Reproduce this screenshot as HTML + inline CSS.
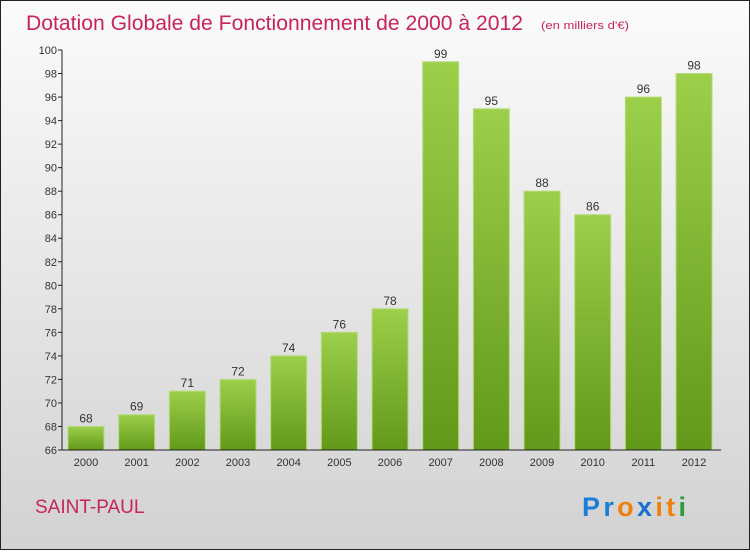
<!DOCTYPE html>
<html><head><meta charset="utf-8"><style>
html,body{margin:0;padding:0}
body{width:750px;height:550px;overflow:hidden;font-family:"Liberation Sans",sans-serif}
</style></head><body>
<svg width="750" height="550" xmlns="http://www.w3.org/2000/svg">
<defs>
<linearGradient id="bg" x1="0" y1="0" x2="0" y2="1"><stop offset="0" stop-color="#fbfbfb"/><stop offset="1" stop-color="#d2d2d2"/></linearGradient>
<linearGradient id="bar" x1="0" y1="0" x2="0" y2="1"><stop offset="0" stop-color="#9ccf4a"/><stop offset="1" stop-color="#62991a"/></linearGradient>
</defs>
<rect x="0.5" y="0.5" width="749" height="549" fill="url(#bg)" stroke="#222"/>
<text x="26" y="30" font-size="21" fill="#c8245a" textLength="497" lengthAdjust="spacingAndGlyphs">Dotation Globale de Fonctionnement de 2000 à 2012</text>
<text x="541" y="29" font-size="11" fill="#c8245a" textLength="88" lengthAdjust="spacingAndGlyphs">(en milliers d'€)</text>
<g id="plot"></g>
<text x="35" y="513" font-size="19" fill="#c8245a">SAINT-PAUL</text>
<text x="582" y="516" font-size="27" font-weight="bold" textLength="104" lengthAdjust="spacing"><tspan fill="#1a7fd6">Pr</tspan><tspan fill="#f07f10">o</tspan><tspan fill="#1a6fd0">x</tspan><tspan fill="#f07f10">it</tspan><tspan fill="#2a9a3a">i</tspan></text>
</svg>
<script>
const years=["2000","2001","2002","2003","2004","2005","2006","2007","2008","2009","2010","2011","2012"];
const values=[68,69,71,72,74,76,78,99,95,88,86,96,98];
const yTicks=[66,68,70,72,74,76,78,80,82,84,86,88,90,92,94,96,98,100];
const NS="http://www.w3.org/2000/svg";
const g=document.getElementById('plot');
const y0=450,y1=50,vmin=66,vmax=100;
const ys=v=>y0-(v-vmin)*(y0-y1)/(vmax-vmin);
const xs=i=>86+i*50.67;
function mk(t,a){const e=document.createElementNS(NS,t);for(const k in a)e.setAttribute(k,a[k]);g.appendChild(e);return e;}
yTicks.forEach(v=>{
  const l=mk('line',{x1:58,x2:62,y1:ys(v),y2:ys(v),stroke:'#222'});
  
  
  const t=mk('text',{x:57,y:ys(v)+4,'text-anchor':'end','font-size':11,fill:'#333'});
  t.textContent=v;
  
  
});
values.forEach((v,i)=>{
  const r=mk('rect',{x:xs(i)-18,y:ys(v),width:36,height:y0-ys(v),fill:'url(#bar)',stroke:'#b5dc7a','stroke-width':1});
  
  
  const t=mk('text',{x:xs(i),y:ys(v)-4,'text-anchor':'middle','font-size':12,fill:'#333'});
  t.textContent=v;
  
  
  const xl=mk('text',{x:xs(i),y:466,'text-anchor':'middle','font-size':11,fill:'#333'});
  xl.textContent=years[i];
  
  
});
const ya=mk('line',{x1:62,x2:62,y1:y1,y2:y0,stroke:'#222'});


const xa=mk('line',{x1:62,x2:721,y1:y0,y2:y0,stroke:'#222'});


</script>
</body></html>
